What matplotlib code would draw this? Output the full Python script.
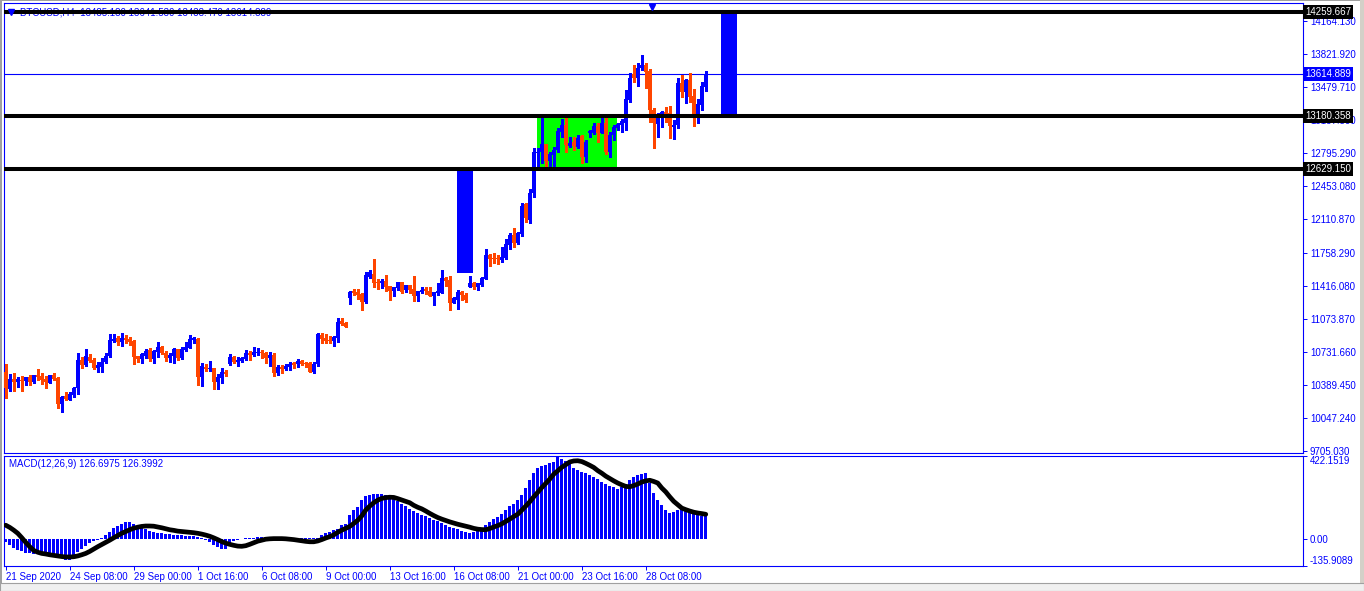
import matplotlib
matplotlib.use("Agg")
import matplotlib.pyplot as plt
from matplotlib.patches import Rectangle
from matplotlib.transforms import blended_transform_factory
import numpy as np

plt.rcParams['font.family'] = ['Liberation Sans', 'DejaVu Sans']

# ---- data (BTCUSD H4) ----
header_text = "BTCUSD,H4  13485.180 13641.530 13438.470 13614.889"
macd_text = "MACD(12,26,9) 126.6975 126.3992"

opens = [10528, 10346, 10450, 10422, 10440, 10433, 10468, 10422, 10492, 10481,
         10450, 10412, 10492, 10464, 10191, 10274, 10232, 10284, 10354, 10647,
         10596, 10675, 10647, 10567, 10578, 10623, 10692, 10848, 10872, 10831,
         10872, 10865, 10845, 10689, 10658, 10692, 10751, 10658, 10727, 10785,
         10717, 10671, 10692, 10761, 10665, 10751, 10775, 10855, 10865, 10474,
         10572, 10554, 10561, 10422, 10464, 10526, 10606, 10675, 10630, 10637,
         10658, 10723, 10699, 10717, 10733, 10723, 10671, 10699, 10509, 10578,
         10554, 10578, 10619, 10606, 10640, 10619, 10619, 10526, 10606, 10907,
         10872, 10855, 10848, 10872, 11052, 11034, 11294, 11363, 11350, 11332,
         11246, 11512, 11540, 11460, 11449, 11467, 11415, 11366, 11398, 11454,
         11374, 11426, 11384, 11314, 11353, 11381, 11363, 11314, 11339, 11346,
         11501, 11477, 11242, 11270, 11350, 11322, 11408, 11443, 11402, 11426,
         11488, 11737, 11709, 11709, 11685, 11703, 11841, 11944, 11858, 11955,
         12263, 12100, 12383, 12798, 12809, 12885, 12712, 12774, 12826, 13016,
         13086, 12871, 12906, 12860, 12972, 12751, 13000, 13006, 13075, 13006,
         13109, 12809, 12982, 13058, 13086, 13109, 13345, 13615, 13570, 13674,
         13708, 13649, 13241, 13096, 13182, 13217, 13207, 13068, 13086, 13518,
         13431, 13553, 13387, 13200, 13293, 13485.18]
highs = [10603, 10499, 10513, 10474, 10481, 10470, 10492, 10495, 10551, 10516,
         10481, 10495, 10509, 10466, 10274, 10318, 10318, 10370, 10717, 10682,
         10762, 10707, 10665, 10630, 10671, 10717, 10914, 10914, 10900, 10931,
         10907, 10889, 10855, 10692, 10717, 10761, 10769, 10751, 10837, 10796,
         10741, 10717, 10769, 10765, 10785, 10837, 10907, 10889, 10872, 10613,
         10606, 10637, 10565, 10499, 10567, 10544, 10710, 10692, 10682, 10682,
         10751, 10741, 10785, 10775, 10751, 10733, 10727, 10723, 10595, 10595,
         10606, 10630, 10630, 10654, 10647, 10630, 10626, 10630, 10925, 10925,
         10914, 10896, 10892, 11080, 11080, 11045, 11363, 11384, 11384, 11340,
         11557, 11581, 11695, 11488, 11488, 11529, 11418, 11408, 11456, 11460,
         11428, 11428, 11519, 11366, 11402, 11402, 11402, 11358, 11449, 11581,
         11504, 11519, 11296, 11374, 11363, 11339, 11519, 11460, 11446, 11505,
         11799, 11747, 11754, 11737, 11823, 11900, 11968, 12021, 11971, 12273,
         12273, 12418, 12850, 12844, 13155, 12888, 12809, 12860, 13051, 13148,
         13155, 12964, 12958, 12982, 12982, 12930, 13034, 13103, 13103, 13155,
         13161, 13016, 13086, 13103, 13148, 13449, 13622, 13708, 13726, 13812,
         13726, 13664, 13259, 13207, 13226, 13276, 13283, 13138, 13570, 13604,
         13560, 13622, 13456, 13352, 13535, 13641.53]
lows = [10256, 10329, 10329, 10370, 10329, 10388, 10388, 10412, 10440, 10395,
        10360, 10405, 10440, 10146, 10111, 10232, 10228, 10266, 10294, 10561,
        10588, 10623, 10554, 10526, 10526, 10613, 10682, 10831, 10803, 10796,
        10821, 10803, 10603, 10624, 10613, 10665, 10637, 10613, 10682, 10706,
        10637, 10630, 10613, 10647, 10654, 10744, 10769, 10821, 10388, 10378,
        10536, 10536, 10346, 10346, 10405, 10484, 10600, 10613, 10588, 10623,
        10647, 10647, 10689, 10699, 10671, 10613, 10588, 10484, 10492, 10509,
        10544, 10544, 10561, 10578, 10596, 10578, 10522, 10516, 10588, 10821,
        10827, 10827, 10793, 10831, 11011, 10987, 11228, 11322, 11280, 11166,
        11236, 11501, 11408, 11384, 11397, 11366, 11270, 11314, 11374, 11339,
        11356, 11339, 11263, 11263, 11339, 11332, 11312, 11218, 11322, 11339,
        11415, 11166, 11238, 11176, 11270, 11246, 11402, 11381, 11374, 11418,
        11484, 11626, 11657, 11640, 11667, 11700, 11796, 11823, 11846, 11937,
        12082, 12069, 12335, 12653, 12688, 12653, 12663, 12653, 12809, 12964,
        12809, 12860, 12826, 12850, 12688, 12705, 12958, 12992, 12912, 13000,
        12785, 12757, 12930, 13034, 13016, 13034, 13327, 13535, 13493, 13656,
        13466, 13120, 12850, 12964, 13062, 13120, 12948, 12940, 13051, 13379,
        13311, 13327, 13075, 13103, 13241, 13438.47]
closes = [10357, 10450, 10422, 10447, 10433, 10468, 10422, 10492, 10474, 10440,
          10422, 10492, 10450, 10191, 10267, 10243, 10291, 10354, 10647, 10596,
          10692, 10637, 10561, 10596, 10630, 10692, 10855, 10865, 10831, 10879,
          10855, 10839, 10682, 10658, 10706, 10741, 10658, 10741, 10785, 10717,
          10671, 10699, 10761, 10671, 10761, 10785, 10865, 10872, 10474, 10585,
          10554, 10564, 10422, 10474, 10526, 10502, 10675, 10623, 10647, 10671,
          10723, 10699, 10733, 10733, 10717, 10671, 10699, 10516, 10572, 10554,
          10588, 10606, 10596, 10640, 10606, 10603, 10526, 10606, 10914, 10865,
          10845, 10845, 10889, 11038, 11021, 10993, 11356, 11339, 11322, 11252,
          11529, 11557, 11449, 11443, 11470, 11408, 11366, 11405, 11454, 11356,
          11426, 11374, 11314, 11363, 11374, 11366, 11314, 11356, 11363, 11501,
          11467, 11242, 11294, 11356, 11322, 11270, 11443, 11408, 11443, 11495,
          11737, 11695, 11695, 11692, 11713, 11851, 11944, 11858, 11968, 12245,
          12124, 12383, 12802, 12809, 12885, 12712, 12782, 12826, 13023, 13086,
          12877, 12896, 12868, 12948, 12751, 12912, 13023, 13075, 13006, 13109,
          12809, 12982, 13068, 13093, 13127, 13352, 13570, 13570, 13674, 13708,
          13639, 13241, 13103, 13189, 13224, 13179, 13075, 13086, 13518, 13431,
          13553, 13379, 13189, 13304, 13490, 13614.889]

macd_hist = [-15, -30, -44, -55, -62, -68, -72, -75, -76, -77,
             -78, -80, -82, -88, -97, -105, -108, -88, -66, -48,
             -32, -20, -10, -3, 5, 20, 38, 55, 67, 78,
             86, 85, 75, 66, 60, 50, 43, 38, 33, 30,
             27, 25, 23, 21, 19, 18, 17, 15, 13, 5,
             -5, -15, -28, -38, -48, -50, -25, -8, -2, 2,
             4, 6, 8, 9, 10, 10, 9, 7, 5, 4,
             4, 4, 5, 5, 6, 6, 5, 4, 6, 20,
             29, 37, 46, 54, 71, 79, 122, 147, 164, 200,
             220, 226, 228, 229, 228, 224, 218, 208, 195, 180,
             167, 155, 143, 132, 124, 116, 106, 96, 90, 84,
             74, 64, 57, 51, 44, 38, 34, 36, 48, 55,
             70, 88, 102, 114, 130, 148, 168, 180, 200, 226,
             258, 300, 335, 362, 372, 378, 385, 394, 418, 405,
             395, 380, 362, 352, 342, 335, 326, 318, 305, 290,
             280, 272, 266, 256, 264, 280, 300, 315, 325, 330,
             335, 285, 232, 200, 172, 146, 135, 140, 148, 152,
             145, 138, 132, 125, 120, 126.6975]
macd_signal = [71, 60, 46, 30, 8, -16, -38, -57, -66, -72,
               -75, -79, -82, -85, -88, -90, -90, -89, -85, -79,
               -72, -62, -50, -38, -27, -16, -5, 7, 19, 30,
               39, 48, 56, 61, 65, 67, 67, 66, 62, 58,
               53, 48, 45, 41, 39, 37, 35, 33, 30, 26,
               21, 15, 7, -2, -12, -20, -26, -31, -35, -36,
               -33, -26, -18, -10, -5, 0, 2, 3, 3, 3,
               2, 0, -2, -5, -8, -11, -13, -13, -9, -2,
               6, 13, 22, 35, 46, 55, 65, 80, 96, 118,
               148, 168, 185, 198, 207, 211, 213, 212, 206, 199,
               192, 185, 172, 162, 154, 143, 131, 120, 110, 102,
               95, 88, 82, 76, 71, 66, 61, 55, 51, 49,
               48, 54, 62, 69, 78, 90, 102, 115, 127, 147,
               168, 190, 215, 238, 262, 283, 305, 330, 347, 365,
               378, 392, 397, 398, 394, 385, 375, 364, 348, 335,
               320, 308, 296, 285, 276, 268, 266, 272, 280, 290,
               296, 299, 293, 285, 260, 240, 215, 192, 175, 158,
               150, 143, 137, 133, 130, 126.3992]

price_ticks = [14164.130, 13821.920, 13479.710, 13137.500, 12795.290, 12453.080,
               12110.870, 11758.290, 11416.080, 11073.870, 10731.660, 10389.450,
               10047.240, 9705.030]
level_prices = [14259.667, 13180.358, 12629.150]
bid_price = 13614.889
macd_ticks = [422.1519, 0.0, -135.9089]
macd_tick_labels = ["422.1519", "0.00", "-135.9089"]

time_tick_bars = [0, 16, 32, 48, 64, 80, 96, 112, 128, 144, 160]
time_tick_labels = ["21 Sep 2020", "24 Sep 08:00", "29 Sep 00:00", "1 Oct 16:00",
                    "6 Oct 08:00", "9 Oct 00:00", "13 Oct 16:00", "16 Oct 08:00",
                    "21 Oct 00:00", "23 Oct 16:00", "28 Oct 08:00"]

# drawn objects: (bar from, bar to, price low, price high)
green_zone = (132.9, 152.75, 12629.150, 13180.358)
blue_zones = [(112.8, 116.75, 11550, 12629.150),
              (178.8, 182.8, 13180.358, 14259.667)]

BLUE = "#0000FF"
ORANGE = "#FF4500"
W, H = 1364, 591

fig = plt.figure(figsize=(W / 100, H / 100), dpi=100, facecolor="white")
ax = fig.add_axes([4 / W, 1 - 453 / H, 1299 / W, 450 / H])
ax2 = fig.add_axes([4 / W, 1 - 566 / H, 1299 / W, 110 / H])

idx = np.arange(len(opens))
o = np.array(opens); h = np.array(highs); l = np.array(lows); c = np.array(closes)
up = c >= o
cols = np.where(up, BLUE, ORANGE)

# zones behind candles
gz = green_zone
ax.add_patch(Rectangle((gz[0], gz[2]), gz[1] - gz[0], gz[3] - gz[2],
                       facecolor="#00FF00", edgecolor="none", zorder=1))
for bz in blue_zones:
    ax.add_patch(Rectangle((bz[0], bz[2]), bz[1] - bz[0], bz[3] - bz[2],
                           facecolor=BLUE, edgecolor="none", zorder=1))

# candles
ax.vlines(idx, l, h, colors=cols, linewidth=0.75, zorder=3, antialiased=False)
body_h = np.maximum(np.abs(c - o), 9)
ax.bar(idx, body_h, bottom=np.minimum(o, c), width=0.78, color=cols,
       linewidth=0, zorder=4, antialiased=False)

# horizontal levels
for p in level_prices:
    ax.axhline(p, color="black", linewidth=2.9, zorder=5)
ax.axhline(bid_price, color=BLUE, linewidth=0.8, zorder=2)

ax.set_xlim(-0.43, 324.3)
ax.set_ylim(9682.4, 14351.6)
ax.set_xticks([])
ax.yaxis.tick_right()
ax.set_yticks(price_ticks)
ax.set_yticklabels(["%.3f" % v for v in price_ticks])
ax.tick_params(axis="y", colors=BLUE, labelsize=7, length=3, width=0.7, pad=2,
               labelcolor=BLUE)

trans = blended_transform_factory(ax.transAxes, ax.transData)
for p in level_prices:
    ax.text(1.0015, p, "%.3f" % p, transform=trans, ha="left", va="center",
            color="white", fontsize=7, zorder=10, clip_on=False,
            bbox=dict(boxstyle="square,pad=0.22", fc="black", ec="none"))
ax.text(1.0015, bid_price, "%.3f" % bid_price, transform=trans, ha="left",
        va="center", color="white", fontsize=7, zorder=10, clip_on=False,
        bbox=dict(boxstyle="square,pad=0.22", fc=BLUE, ec="none"))

ax.text(0.0125, 0.979, header_text, transform=ax.transAxes, color=BLUE,
        fontsize=7, va="center", ha="left", zorder=4)
tx = blended_transform_factory(ax.transData, ax.transAxes)
ax.plot([161.6], [0.992], marker="v", color=BLUE, markersize=5, transform=tx,
        clip_on=False, zorder=11)
ax.plot([1.3], [0.981], marker="v", color=BLUE, markersize=4, transform=tx,
        clip_on=False, zorder=11)

# MACD subwindow
ax2.bar(idx, macd_hist, width=0.75, color=BLUE, linewidth=0, zorder=2,
        antialiased=False)
ax2.plot(idx, macd_signal, color="black", linewidth=3.4, zorder=3,
         solid_capstyle="round", solid_joinstyle="round")
ax2.set_xlim(-0.43, 324.3)
ax2.set_ylim(-135.9089, 422.1519)
ax2.yaxis.tick_right()
ax2.set_yticks(macd_ticks)
ax2.set_yticklabels(macd_tick_labels)
ax2.tick_params(axis="y", colors=BLUE, labelsize=7, length=3, width=0.7, pad=2)
ylabels = ax2.get_yticklabels()
ylabels[0].set_va("top")
ylabels[2].set_va("bottom")
ax2.set_xticks(time_tick_bars)
ax2.set_xticklabels(time_tick_labels)
ax2.tick_params(axis="x", colors=BLUE, labelsize=7, length=3, width=0.7, pad=1)
for t in ax2.get_xticklabels():
    t.set_ha("left")
ax2.text(0.004, 0.927, macd_text, transform=ax2.transAxes, color=BLUE,
         fontsize=7, va="center", ha="left")

for a in (ax, ax2):
    for s in a.spines.values():
        s.set_color(BLUE)
        s.set_linewidth(0.8)

# window frame
fig.add_artist(Rectangle((0, 0), 2 / W, 1, transform=fig.transFigure,
                         facecolor="#A0A0A0", edgecolor="none"))
fig.add_artist(Rectangle((0, 1 - 1 / H), 1, 1 / H, transform=fig.transFigure,
                         facecolor="#A0A0A0", edgecolor="none"))
fig.add_artist(Rectangle((1 - 4 / W, 0), 4 / W, 1, transform=fig.transFigure,
                         facecolor="#D4D0C8", edgecolor="none"))
fig.add_artist(Rectangle((0, 0), 1, 8 / H, transform=fig.transFigure,
                         facecolor="#F0F0F0", edgecolor="#A0A0A0", linewidth=0.8))

fig.savefig("out.png", dpi=100, facecolor="white")
